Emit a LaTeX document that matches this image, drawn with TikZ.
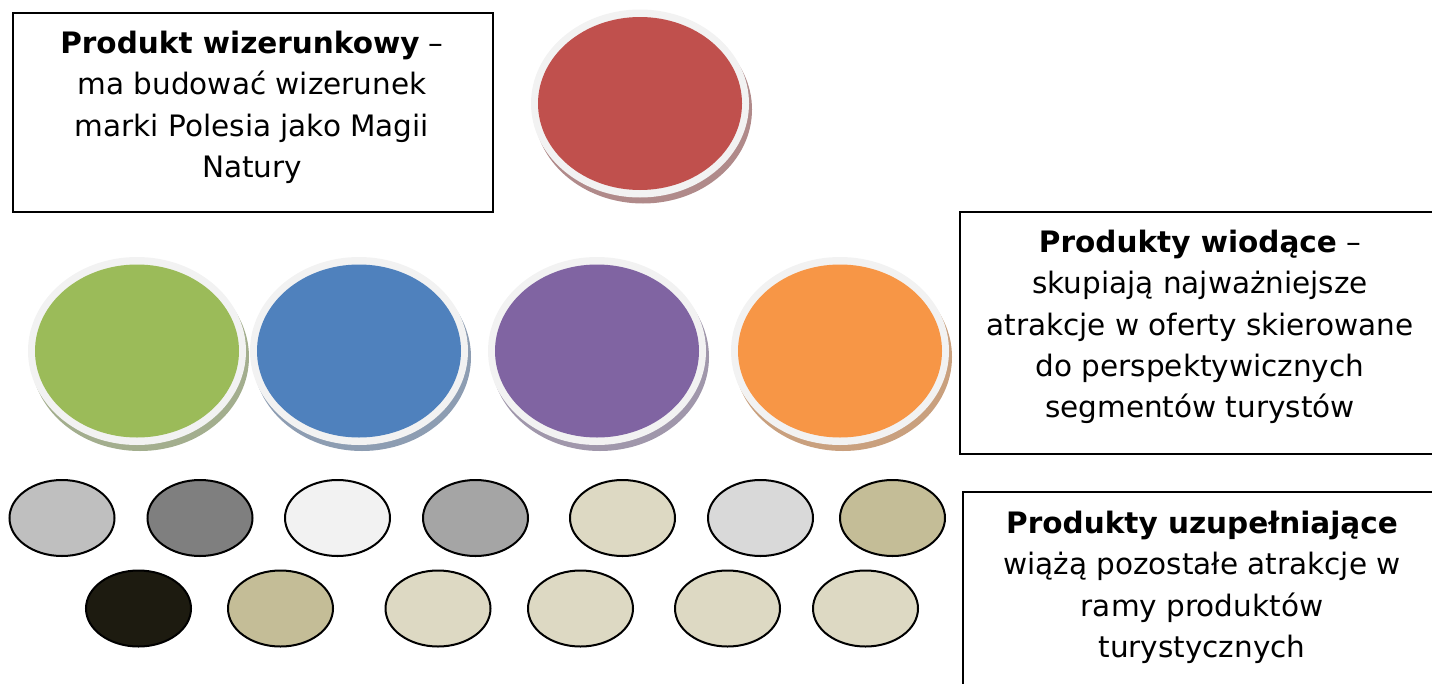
\documentclass[tikz,border=0pt]{standalone}
\usepackage{fontspec}
\setmainfont{DejaVu Sans}
\usetikzlibrary{shapes.geometric}
\definecolor{ring}{HTML}{F2F2F2}
\definecolor{cred}{HTML}{C0504D}
\definecolor{cgreen}{HTML}{9BBB59}
\definecolor{cblue}{HTML}{4F81BD}
\definecolor{cpurple}{HTML}{8064A2}
\definecolor{corange}{HTML}{F79646}
\definecolor{sred}{HTML}{B08A8A}
\definecolor{sgreen}{HTML}{A3AE8E}
\definecolor{sblue}{HTML}{8D9DB2}
\definecolor{spurple}{HTML}{A097AB}
\definecolor{sorange}{HTML}{C9A07E}
\definecolor{e1}{HTML}{BFBFBF}
\definecolor{e2}{HTML}{7F7F7F}
\definecolor{e3}{HTML}{F2F2F2}
\definecolor{e4}{HTML}{A5A5A5}
\definecolor{e5}{HTML}{DDD9C3}
\definecolor{e6}{HTML}{D9D9D9}
\definecolor{e7}{HTML}{C4BD97}
\definecolor{e8}{HTML}{1D1B10}
\tikzset{
  shadowel/.style={ellipse, inner sep=0, minimum width=218, minimum height=188},
  ringel/.style={ellipse, inner sep=0, minimum width=218, minimum height=188, fill=ring},
  coreel/.style={ellipse, inner sep=0, minimum width=204, minimum height=173},
  smallel/.style={ellipse, inner sep=0, minimum width=105, minimum height=76, draw=black, line width=2},
  txtbox/.style={draw=black, line width=1.5, inner sep=0, anchor=north west},
  txt/.style={inner sep=0, anchor=north, align=center, font=\fontsize{29.5}{41.2}\selectfont}
}
\begin{document}
\begin{tikzpicture}[x=1pt,y=-1pt]
\useasboundingbox (0,0) rectangle (1432,683);
\clip (0,0) rectangle (1432,683);
% text boxes
\node[txtbox, minimum width=480, minimum height=199] (b1) at (12,12) {};
\node[txtbox, minimum width=482, minimum height=242] (b2) at (959,211) {};
\node[txtbox, minimum width=480, minimum height=220] (b3) at (962,491) {};
\node[txt] (t1) at (252,31) {\textbf{Produkt wizerunkowy} –\\ma budować wizerunek\\marki Polesia jako Magii\\Natury};
\node[txt] (t2) at (1200,230) {\textbf{Produkty wiodące} –\\skupiają najważniejsze\\atrakcje w oferty skierowane\\do perspektywicznych\\segmentów turystów};
\node[txt] (t3) at (1202,511) {\textbf{Produkty uzupełniające}\\wiążą pozostałe atrakcje w\\ramy produktów\\turystycznych};
% big ellipses
\foreach \n/\cx/\cy/\fc/\sc in {red/640/103.5/cred/sred, green/137/351/cgreen/sgreen, blue/359/351/cblue/sblue, purple/597/351/cpurple/spurple, orange/840/351/corange/sorange}{
  \node[shadowel, fill=\sc] (\n-s) at (\cx+3,\cy+6) {};
  \node[ringel] (\n-r) at (\cx,\cy) {};
  \node[coreel, fill=\fc] (\n) at (\cx,\cy) {};
}
% small ellipses
\foreach \n/\cx/\cy/\fc in {a1/62/518/e1, a2/200/518/e2, a3/337.5/518/e3, a4/475.5/518/e4, a5/622.5/518/e5, a6/760.5/518/e6, a7/892.5/518/e7,
  c1/138.5/608.5/e8, c2/280.5/608.5/e7, c3/438/608.5/e5, c4/580.5/608.5/e5, c5/727.5/608.5/e5, c6/865.5/608.5/e5}{
  \node[smallel, fill=\fc] (\n) at (\cx,\cy) {};
}
\end{tikzpicture}
\end{document}
